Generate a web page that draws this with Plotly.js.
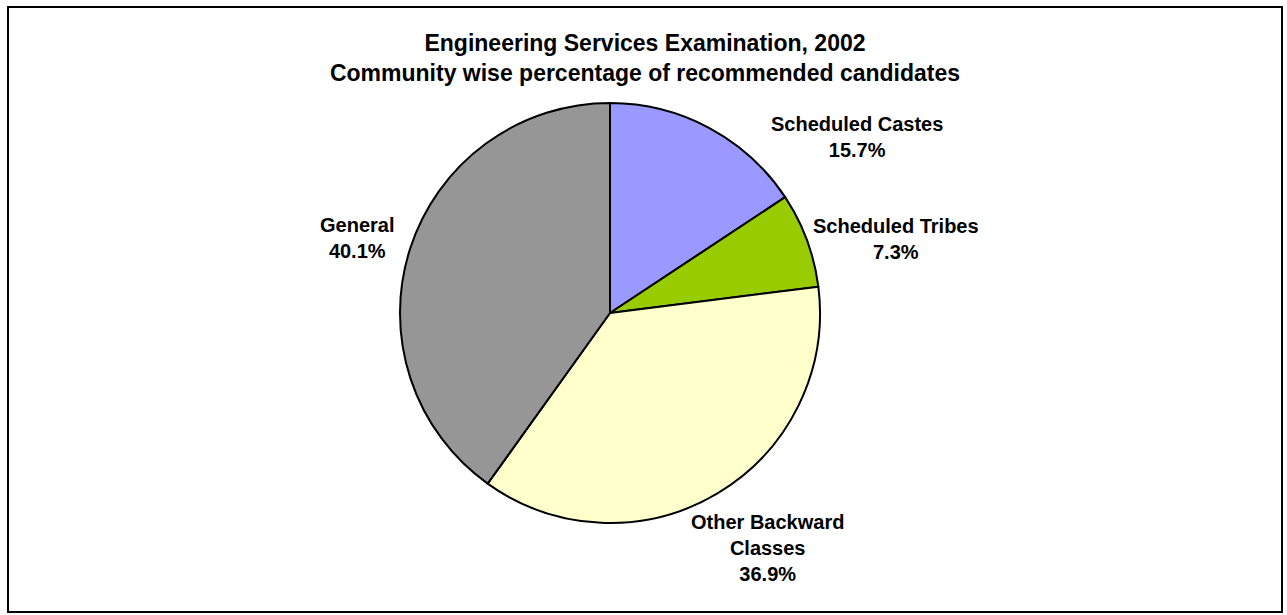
<!DOCTYPE html>
<html>
<head>
<meta charset="utf-8">
<script src="https://cdn.plot.ly/plotly-3.0.1.min.js"></script>
<style>
html,body{margin:0;padding:0;background:#fff;}
#frame{position:absolute;left:7px;top:6px;width:1272px;height:603px;border:2px solid #000;}
#chart{position:absolute;left:0;top:0;width:1287px;height:615px;}
</style>
</head>
<body>
<div id="frame"></div>
<div id="chart"></div>
<script>
var categories = ["Scheduled Castes", "Scheduled Tribes", "Other Backward<br>Classes", "General"];
var percentages = [15.7, 7.3, 36.9, 40.1];
var sliceColors = ["#9999FF", "#99CC00", "#FFFFCC", "#969696"];

var W = 1287, H = 615, cx = 610, cy = 313, R = 210;

var trace = {
  type: "pie",
  labels: categories,
  values: percentages,
  sort: false,
  direction: "clockwise",
  rotation: 0,
  marker: {colors: sliceColors, line: {color: "#000", width: 2}},
  textinfo: "none",
  hoverinfo: "label+percent",
  showlegend: false,
  domain: {x: [(cx - R) / W, (cx + R) / W], y: [(H - cy - R) / H, (H - cy + R) / H]}
};

// label positions derived from each slice's mid angle
var annotations = [];
var cum = 0;
var total = percentages.reduce(function(a, b){ return a + b; }, 0);
var radial = [1.444, 1.407, 1.349, 1.257];
var angleShift = [26.2, 5.8, -3.1, -1.3];
for (var i = 0; i < percentages.length; i++) {
  var mid = (cum + percentages[i] / 2) / total * 360 + angleShift[i];
  cum += percentages[i];
  var a = mid * Math.PI / 180;
  var px = cx + R * radial[i] * Math.sin(a);
  var py = cy - R * radial[i] * Math.cos(a);
  annotations.push({
    xref: "paper", yref: "paper",
    x: px / W, y: 1 - py / H,
    xanchor: "center", yanchor: "middle",
    showarrow: false,
    align: "center",
    text: "<b>" + categories[i] + "<br>" + percentages[i].toFixed(1) + "%</b>",
    font: {family: "Liberation Sans, Arial, sans-serif", size: 20, color: "#000"}
  });
}

var layout = {
  width: W, height: H,
  margin: {l: 0, r: 0, t: 0, b: 0},
  paper_bgcolor: "rgba(0,0,0,0)",
  plot_bgcolor: "rgba(0,0,0,0)",
  title: {
    text: "<b>Engineering Services Examination, 2002<br>Community wise percentage of recommended candidates</b>",
    font: {family: "Liberation Sans, Arial, sans-serif", size: 23, color: "#000"},
    x: 645 / W, xanchor: "center",
    y: 1 - 51 / H, yanchor: "middle"
  },
  annotations: annotations
};

Plotly.newPlot("chart", [trace], layout, {displayModeBar: false, staticPlot: true});
</script>
</body>
</html>
